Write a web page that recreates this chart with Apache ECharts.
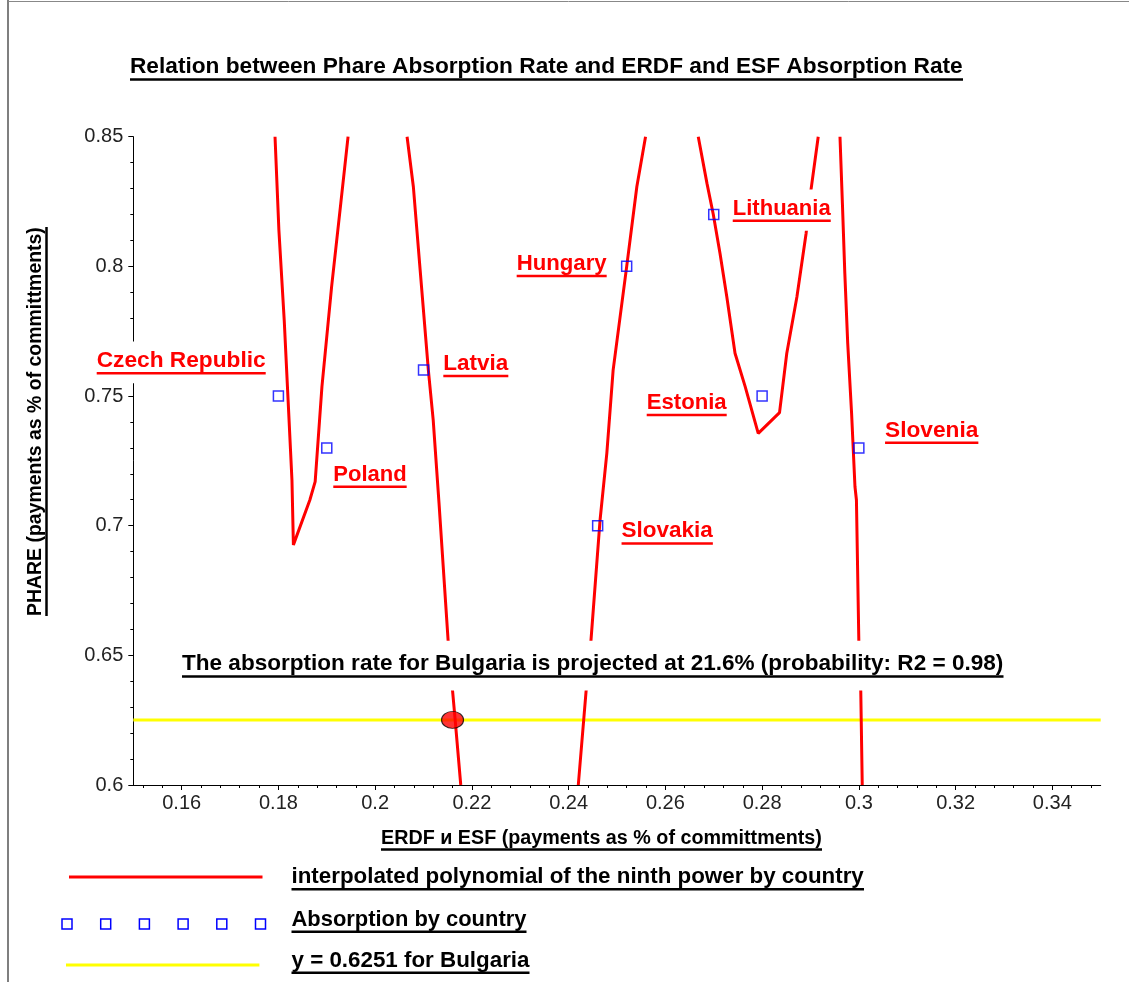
<!DOCTYPE html>
<html><head><meta charset="utf-8">
<script src="https://cdn.jsdelivr.net/npm/echarts@6/dist/echarts.min.js"></script>
<style>html,body{margin:0;padding:0;background:#fff}#c{width:1129px;height:982px}</style>
</head><body><div id="c"></div>
<script>
// ---------------- DATA ----------------
const countries = ['Czech Republic','Poland','Latvia','Hungary','Lithuania','Estonia','Slovakia','Slovenia'];
const erdfEsf   = [0.18, 0.19, 0.21, 0.252, 0.27, 0.28, 0.246, 0.30];
const phare     = [0.75, 0.73, 0.76, 0.80, 0.82, 0.75, 0.70, 0.73];
const bulgaria  = [0.216, 0.6251];
const bulgariaLevel = 0.6251;
const xTickLabels = [0.16, 0.18, 0.2, 0.22, 0.24, 0.26, 0.28, 0.3, 0.32, 0.34];
const yTickLabels = [0.6, 0.65, 0.7, 0.75, 0.8, 0.85];
// ninth-power polynomial, visible pieces
const curveCzPl = [[0.1793,0.85],[0.1801,0.8140],[0.1812,0.7793],[0.1820,0.7485],[0.1828,0.7176],[0.1831,0.6926],[0.1865,0.7099],[0.1876,0.7170],[0.1890,0.7536],[0.1910,0.7922],[0.1929,0.8244],[0.1944,0.85]];
const curveLv   = [[0.2066,0.85],[0.2079,0.8307],[0.2093,0.7986],[0.2110,0.7600],[0.2120,0.7408],[0.2132,0.7088],[0.2151,0.6553],[0.2165,0.6260],[0.2177,0.6]];
const curveSkHu = [[0.2420,0.6],[0.2436,0.6360],[0.2446,0.6553],[0.2465,0.7022],[0.2479,0.7280],[0.2492,0.7600],[0.2520,0.7999],[0.2541,0.8307],[0.2559,0.85]];
const curveLtEe = [[0.2668,0.85],[0.2686,0.8320],[0.2699,0.8201],[0.2713,0.8050],[0.2727,0.7883],[0.2744,0.7665],[0.2765,0.7536],[0.2792,0.7356],[0.2836,0.7436],[0.2851,0.7665],[0.2872,0.7883],[0.2891,0.8128],[0.2901,0.8294],[0.2916,0.85]];
const curveSi   = [[0.2961,0.85],[0.2966,0.8243],[0.2971,0.7973],[0.2977,0.7703],[0.2985,0.7433],[0.2992,0.7150],[0.2995,0.7099],[0.3000,0.6553],[0.3004,0.6360],[0.3007,0.6]];

const titleText = 'Relation between Phare Absorption Rate and ERDF and ESF Absorption Rate';
const xName = 'ERDF и ESF (payments as % of committments)';
const yName = 'PHARE (payments as % of committments)';
const noteText = 'The absorption rate for Bulgaria is projected at 21.6% (probability: R2 = 0.98)';
const legendTexts = ['interpolated polynomial of the ninth power by country','Absorption by country','y = 0.6251 for Bulgaria'];

// ---------------- LAYOUT / STYLE ----------------
const labelLayout = [
  {dx:-181.7, du:-22.7, w:169},
  {dx:6.5,    du:38.8,  w:73.4},
  {dx:19.8,   du:6,     w:65},
  {dx:-110,   du:9.6,   w:90},
  {dx:19,     du:6.2,   w:98},
  {dx:-115.4, du:19,    w:80},
  {dx:23.9,   du:17.7,  w:91.3},
  {dx:26.2,   du:-5.2,  w:93.3}
];
const FONT = '"Liberation Sans", Arial, sans-serif';
const mctx = document.createElement('canvas').getContext('2d');
function fitSize(text, w){ mctx.font = 'bold 20px ' + FONT; return 20 * w / mctx.measureText(text).width; }
const UL = 4.5;

function uText(o){
  const fs = fitSize(o.text, o.w);
  const ch = [];
  if (o.box) ch.push({type:'rect', z:100, shape:{x:-o.box[0], y:-0.716*fs-o.box[1], width:o.w+2*o.box[0], height:0.716*fs+o.box[1]+UL+o.box[2]}, style:{fill:'#fff'}});
  ch.push({type:'text', z:101, x:0, y:-0.35*fs, style:{text:o.text, font:'bold '+fs.toFixed(2)+'px '+FONT, fill:o.color, align:'left', verticalAlign:'middle'}});
  ch.push({type:'rect', z:101, shape:{x:0, y:UL-1.25, width:o.w, height:2.5}, style:{fill:o.color}});
  return {type:'group', x:o.left, y:o.base, rotation:o.rot||0, z:100, children:ch};
}

const xMinor = [];
for (let v = 0.152; v < 0.3495; v += 0.004) {
  if (!xTickLabels.some(t => Math.abs(t - v) < 1e-6)) xMinor.push(+v.toFixed(4));
}
const fmt = v => String(+(+v).toFixed(3));

const chart = echarts.init(document.getElementById('c'));
const curveSeries = [curveCzPl, curveLv, curveSkHu, curveLtEe, curveSi].map(seg => ({
  type:'line', data:seg, symbol:'none', z:3, silent:true,
  lineStyle:{color:'#ff0000', width:3}
}));

const graphics = [
  {type:'line', z:100, shape:{x1:8, y1:0, x2:8, y2:982}, style:{stroke:'#555', lineWidth:1.5}},
  {type:'line', z:100, shape:{x1:8, y1:1.5, x2:1129, y2:1.5}, style:{stroke:'#888', lineWidth:1}},
  uText({text:titleText, left:130, base:75, w:833, color:'#000'}),
  uText({text:noteText, left:182, base:672, w:821.5, color:'#000', box:[6,15,14]}),
  uText({text:xName, left:381, base:845, w:441, color:'#000'}),
  uText({text:yName, left:42, base:616, w:389, color:'#000', rot:Math.PI/2}),
  {type:'line', z:100, shape:{x1:69, y1:877, x2:262.5, y2:877}, style:{stroke:'#ff0000', lineWidth:3}},
  {type:'line', z:100, shape:{x1:66, y1:965, x2:259.4, y2:965}, style:{stroke:'#ffff00', lineWidth:3}},
  uText({text:legendTexts[0], left:291.5, base:884.8, w:572.5, color:'#000'}),
  uText({text:legendTexts[1], left:291.5, base:927.2, w:235, color:'#000'}),
  uText({text:legendTexts[2], left:291.5, base:968.2, w:238, color:'#000'})
];
for (let k = 0; k < 6; k++) {
  graphics.push({type:'rect', z:100, shape:{x:67 + 38.7*k - 5, y:924 - 5, width:10, height:10}, style:{fill:'none', stroke:'#0000ff', lineWidth:1.5}});
}

chart.setOption({
  animation:false,
  backgroundColor:'#fff',
  grid:{left:133.3, right:28.3, top:136.7, bottom:197, containLabel:false, outerBoundsMode:'none'},
  xAxis:[{
    type:'value', min:0.15, max:0.35, position:'bottom',
    axisLine:{show:true, lineStyle:{color:'#000', width:1}},
    axisTick:{show:true, length:5, customValues:xTickLabels, lineStyle:{color:'#000'}},
    axisLabel:{show:true, customValues:xTickLabels, formatter:fmt, fontFamily:FONT, fontSize:20, color:'#222', margin:8},
    splitLine:{show:false}
  },{
    type:'value', min:0.15, max:0.35, position:'bottom', offset:0,
    axisLine:{show:false},
    axisTick:{show:true, length:3, customValues:xMinor, lineStyle:{color:'#000'}},
    axisLabel:{show:false},
    splitLine:{show:false}
  }],
  yAxis:{
    type:'value', min:0.6, max:0.85, interval:0.05,
    axisLine:{show:true, lineStyle:{color:'#000', width:1}},
    axisTick:{show:true, length:5, lineStyle:{color:'#000'}},
    minorTick:{show:true, splitNumber:5, length:3, lineStyle:{color:'#000'}},
    axisLabel:{formatter:fmt, fontFamily:FONT, fontSize:20, color:'#222', margin:10},
    splitLine:{show:false}, minorSplitLine:{show:false}
  },
  series:[
    {type:'line', data:[[0.15,bulgariaLevel],[0.35,bulgariaLevel]], symbol:'none', z:2, silent:true,
     lineStyle:{color:'#ffff00', width:3}},
    ...curveSeries,
    {type:'scatter', data:erdfEsf.map((x,i)=>[x, phare[i]]), symbol:'rect', symbolSize:10, z:5,
     itemStyle:{color:'rgba(0,0,0,0)', borderColor:'#0000ff', borderWidth:1.5}},
    {type:'scatter', data:[bulgaria], symbol:'circle', symbolSize:[22,17], z:6,
     itemStyle:{color:'#ff0000', borderColor:'#000', borderWidth:1}},
    {type:'custom', z:10, clip:false, silent:true,
     data:erdfEsf.map((x,i)=>[x, phare[i], i]),
     renderItem:function(params, api){
       const i = params.dataIndex;
       const p = api.coord([api.value(0), api.value(1)]);
       const L = labelLayout[i];
       const name = countries[i];
       const fs = fitSize(name, L.w);
       const left = p[0] + L.dx;
       const ul = p[1] + L.du;
       const base = ul - UL;
       const top = base - 0.716*fs - 11;
       return {type:'group', children:[
         {type:'rect', shape:{x:left-6, y:top, width:L.w+12, height:(ul+10)-top}, style:{fill:'#fff'}},
         {type:'text', x:left, y:base-0.35*fs, style:{text:name, font:'bold '+fs.toFixed(2)+'px '+FONT, fill:'#ff0000', align:'left', verticalAlign:'middle'}},
         {type:'rect', shape:{x:left, y:ul-1.25, width:L.w, height:2.5}, style:{fill:'#ff0000'}}
       ]};
     }}
  ],
  graphic:graphics
});
</script></body></html>
